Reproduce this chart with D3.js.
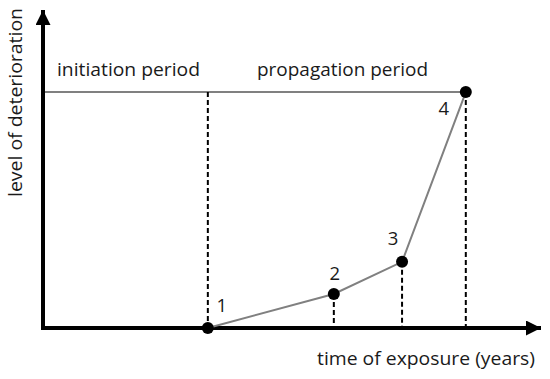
<!DOCTYPE html>
<html>
<head>
<meta charset="utf-8">
<script src="https://cdn.jsdelivr.net/npm/d3@7"></script>
<style>
  body { margin: 0; background: #fff; }
  text { font-family: "Open Sans", "Noto Sans", sans-serif; fill: #1a1a1a; }
</style>
</head>
<body>
<div id="chart"></div>
<script>
// stage points (time and level in % of the axis length)
const pointLabels = ["1", "2", "3", "4"];
const exposureTime = [33.1, 58.4, 72.1, 84.9];
const deterioration = [0, 10.7, 20.8, 74.2];
const periodLabels = ["initiation period", "propagation period"];
const axisLabels = ["time of exposure (years)", "level of deterioration"];

const width = 550, height = 379;

const svg = d3.select("#chart").append("svg")
  .attr("width", width)
  .attr("height", height);

const x = d3.scaleLinear().domain([0, 100]).range([43, 541]);
const y = d3.scaleLinear().domain([0, 100]).range([328, 10]);

const points = pointLabels.map((label, i) => ({
  label: label, t: exposureTime[i], level: deterioration[i]
}));
const threshold = deterioration[3];

// arrow heads for the two axes
svg.append("defs").append("marker")
  .attr("id", "arrow")
  .attr("viewBox", "0 0 10 10")
  .attr("refX", 10)
  .attr("refY", 5)
  .attr("markerWidth", 15)
  .attr("markerHeight", 15)
  .attr("markerUnits", "userSpaceOnUse")
  .attr("orient", "auto")
  .append("path")
  .attr("d", "M0,0 L10,5 L0,10 Z")
  .attr("fill", "#000");

// threshold line (end of initiation)
svg.append("line")
  .attr("x1", x(0))
  .attr("x2", x(points[3].t))
  .attr("y1", y(threshold))
  .attr("y2", y(threshold))
  .attr("stroke", "#808080")
  .attr("stroke-width", 2);

// dashed drop lines
const drops = [{ t: points[0].t, level: threshold }, ...points.slice(1)];
svg.selectAll(".drop")
  .data(drops)
  .join("line")
  .attr("class", "drop")
  .attr("x1", d => x(d.t))
  .attr("x2", d => x(d.t))
  .attr("y1", d => y(d.level))
  .attr("y2", y(0))
  .attr("stroke", "#000")
  .attr("stroke-width", 2)
  .attr("stroke-dasharray", "5,3");

// axes
svg.append("path")
  .attr("d", `M${x(0)},${y(0)} L${x(0)},${y(100)}`)
  .attr("stroke", "#000")
  .attr("stroke-width", 4)
  .attr("fill", "none")
  .attr("marker-end", "url(#arrow)");

svg.append("path")
  .attr("d", `M${x(0) - 2},${y(0)} L${x(100)},${y(0)}`)
  .attr("stroke", "#000")
  .attr("stroke-width", 4)
  .attr("fill", "none")
  .attr("marker-end", "url(#arrow)");

// deterioration curve
svg.append("path")
  .datum(points)
  .attr("d", d3.line().x(d => x(d.t)).y(d => y(d.level)))
  .attr("stroke", "#808080")
  .attr("stroke-width", 2)
  .attr("fill", "none");

svg.selectAll(".dot")
  .data(points)
  .join("circle")
  .attr("class", "dot")
  .attr("cx", d => x(d.t))
  .attr("cy", d => y(d.level))
  .attr("r", 6)
  .attr("fill", "#000");

// stage numbers
const labelOffset = [[14, -16], [1, -14], [-9, -17], [-22, 23]];
svg.selectAll(".num")
  .data(points)
  .join("text")
  .attr("class", "num")
  .attr("x", (d, i) => x(d.t) + labelOffset[i][0])
  .attr("y", (d, i) => y(d.level) + labelOffset[i][1])
  .attr("text-anchor", "middle")
  .attr("font-size", 18.5)
  .text(d => d.label);

// period names
svg.append("text")
  .attr("x", 57).attr("y", 76)
  .attr("font-size", 18.5)
  .attr("textLength", 143)
  .attr("lengthAdjust", "spacingAndGlyphs")
  .text(periodLabels[0]);

svg.append("text")
  .attr("x", 257).attr("y", 76)
  .attr("font-size", 18.5)
  .attr("textLength", 171)
  .attr("lengthAdjust", "spacingAndGlyphs")
  .text(periodLabels[1]);

// axis titles
svg.append("text")
  .attr("x", 317).attr("y", 365)
  .attr("font-size", 18.5)
  .attr("textLength", 218)
  .attr("lengthAdjust", "spacingAndGlyphs")
  .text(axisLabels[0]);

svg.append("text")
  .attr("transform", "translate(22,197) rotate(-90)")
  .attr("font-size", 18.5)
  .attr("textLength", 189)
  .attr("lengthAdjust", "spacingAndGlyphs")
  .text(axisLabels[1]);
</script>
</body>
</html>
